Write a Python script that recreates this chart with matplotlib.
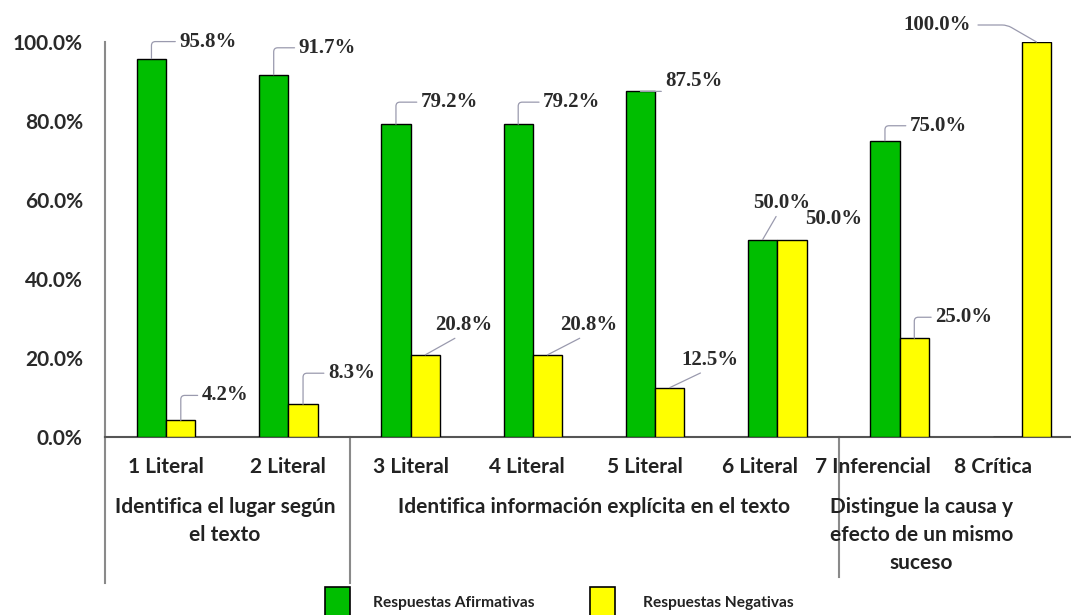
import matplotlib
matplotlib.use("Agg")
import matplotlib.pyplot as plt
from matplotlib.patches import Rectangle
from matplotlib.ticker import FuncFormatter

# ---------------- data ----------------
categories = ["1 Literal", "2 Literal", "3 Literal", "4 Literal",
              "5 Literal", "6 Literal", "7 Inferencial", "8 Crítica"]
afirmativas = [95.8, 91.7, 79.2, 79.2, 87.5, 50.0, 75.0, 0.0]
negativas = [4.2, 8.3, 20.8, 20.8, 12.5, 50.0, 25.0, 100.0]
groups = ["Identifica el lugar según\nel texto",
          "Identifica información explícita en el texto",
          "Distingue la causa y\nefecto de un mismo\nsuceso"]
series_names = ["Respuestas Afirmativas", "Respuestas Negativas"]
yticks = [0, 20, 40, 60, 80, 100]

# ---------------- layout / style ----------------
W, H, DPI = 1071, 615, 100
GREEN = "#00BE00"
YELLOW = "#FFFF00"
SANS = ["Lato", "DejaVu Sans"]
SERIF = ["Liberation Serif", "DejaVu Serif"]

fig = plt.figure(figsize=(W / DPI, H / DPI), dpi=DPI)
fig.patch.set_facecolor("white")
x0, x1, ytop, ybot = 105, 1083, 42, 437
ax = fig.add_axes([x0 / W, (H - ybot) / H, (x1 - x0) / W, (ybot - ytop) / H])

n = len(categories)
xs = list(range(n))
bw = 0.24
ax.bar([x - bw / 2 for x in xs], afirmativas, width=bw, color=GREEN,
       edgecolor="black", linewidth=1.0, zorder=3)
ax.bar([x + bw / 2 for x in xs], negativas, width=bw, color=YELLOW,
       edgecolor="black", linewidth=1.0, zorder=3)

ax.set_xlim(-0.5, n - 0.5)
ax.set_ylim(0, 100)
ax.set_yticks(yticks)
ax.yaxis.set_major_formatter(FuncFormatter(lambda v, p: f"{v:.1f}%"))
ax.set_xticks([])
ax.tick_params(axis="y", length=0, pad=16)
for lab in ax.get_yticklabels():
    lab.set_fontfamily(SANS)
    lab.set_fontweight("bold")
    lab.set_fontsize(15)
    lab.set_color("#2a2a2a")

for s in ("top", "right"):
    ax.spines[s].set_visible(False)
ax.spines["left"].set_color("#8a8a8a")
ax.spines["left"].set_linewidth(1.5)
ax.spines["bottom"].set_color("#555555")
ax.spines["bottom"].set_linewidth(1.5)

# separators below the axis (in data coords, unclipped)
for xsep, ylow in [(-0.5, -37.0), (1.5, -37.0), (5.5, -35.5)]:
    ax.plot([xsep, xsep], [0, ylow], color="#8a8a8a", lw=1.5,
            clip_on=False, zorder=2)

# category labels (positions drift slightly left, as in the reference)
cat_x = [0.0, 1.0, 2.0, 2.95, 3.92, 4.86, 5.78, 6.76]
for cx, lab in zip(cat_x, categories):
    ax.text(cx, -7.7, lab, ha="center", va="center", fontsize=15,
            fontweight="bold", family=SANS, color="#222222", clip_on=False)

group_x = [0.48, 3.5, 6.18]
for gx, g in zip(group_x, groups):
    ax.text(gx, -15.3, g, ha="center", va="top", fontsize=15,
            fontweight="bold", family=SANS, color="#222222",
            linespacing=1.5, clip_on=False)

# data labels: offsets in pixels (label left-edge, centre) from bar top
LC = "#9a9aae"
g_off = [(28, 17), (25, 27), (25, 22), (25, 22), (25, 10), (-10, 37), (25, 15), None]
g_sty = ["elbow", "elbow", "elbow", "elbow", "diag", "diag", "elbow", None]
y_off = [(21, 25), (25, 31), (10, 30), (13, 30), (12, 28), (13, 20), (21, 21), (-133, 17)]
y_sty = ["elbow", "elbow", "diag", "diag", "diag", None, "elbow", "right"]


def label(x, v, off, sty):
    if off is None:
        return
    txt = f"{v:.1f}%"
    kw = dict(xy=(x, v), xytext=off, textcoords="offset pixels",
              ha="left", va="center", fontsize=15, fontweight="bold",
              family=SERIF, color="#2a2a2a", annotation_clip=False, zorder=5)
    if sty == "elbow":
        kw["arrowprops"] = dict(arrowstyle="-", color=LC, lw=0.9,
                                connectionstyle="angle,angleA=0,angleB=90,rad=4",
                                relpos=(0, 0.5), shrinkA=1, shrinkB=0)
    elif sty == "diag":
        kw["arrowprops"] = dict(arrowstyle="-", color=LC, lw=0.9,
                                relpos=(0.45, 0.0), shrinkA=1, shrinkB=0)
    elif sty == "right":
        kw["arrowprops"] = dict(arrowstyle="-", color=LC, lw=0.9,
                                connectionstyle="angle,angleA=0,angleB=150,rad=5",
                                relpos=(1, 0.5), shrinkA=3, shrinkB=0)
    ax.annotate(txt, **kw)


for i in range(n):
    if afirmativas[i] > 0:
        label(i - bw / 2, afirmativas[i], g_off[i], g_sty[i])
    if negativas[i] > 0:
        label(i + bw / 2, negativas[i], y_off[i], y_sty[i])

# legend drawn at figure level (bottom, partially cropped as in reference)
for (lx, tx), col, name in zip([(325, 373), (590, 643)], [GREEN, YELLOW], series_names):
    fig.patches.append(Rectangle((lx / W, -0.01), 25 / W, (H - 587) / H + 0.01,
                                 transform=fig.transFigure, facecolor=col,
                                 edgecolor="black", lw=1.2, clip_on=False))
    fig.text(tx / W, (H - 603) / H, name, ha="left", va="center",
             fontsize=11.2, fontweight="bold", family=SANS, color="#222222")

fig.savefig("out.png", dpi=DPI, facecolor="white")
